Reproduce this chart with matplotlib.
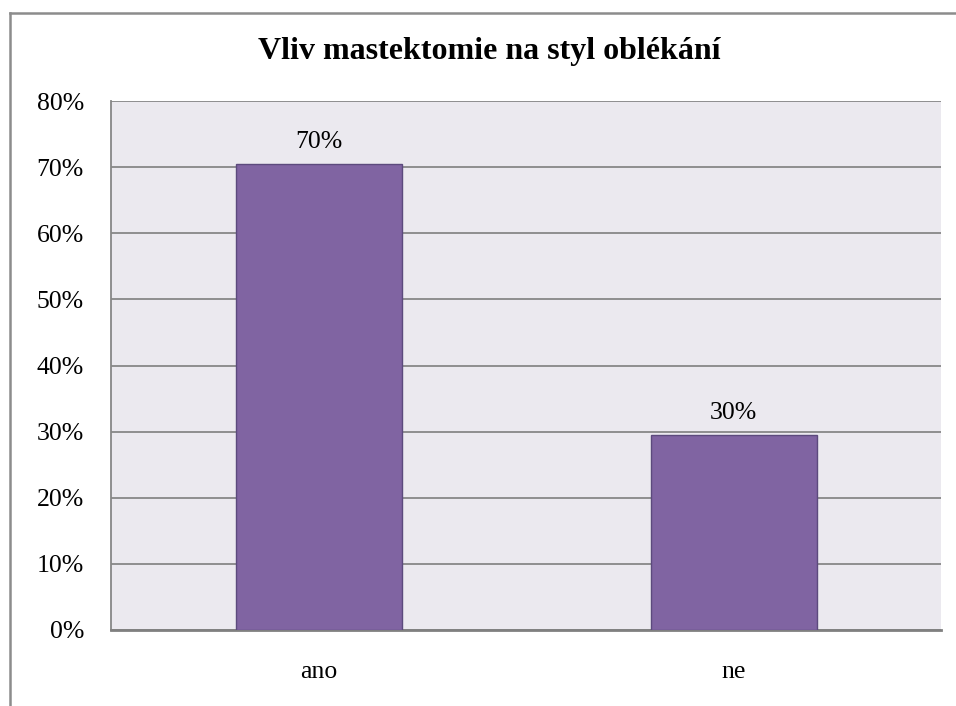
import matplotlib
matplotlib.use("Agg")
import matplotlib.pyplot as plt
from matplotlib.lines import Line2D
from matplotlib.ticker import PercentFormatter

plt.rcParams['font.family'] = ['Liberation Serif', 'DejaVu Serif']

categories = ['ano', 'ne']
shares = [0.705, 0.295]
bar_labels = ['70%', '30%']
title = 'Vliv mastektomie na styl oblékání'

W, H = 956, 706
fig = plt.figure(figsize=(W / 100, H / 100), dpi=100)
fig.patch.set_facecolor('white')

# plot area in pixel coordinates
left, right, top, bottom = 111, 941, 101, 630
ax = fig.add_axes([left / W, 1 - bottom / H, (right - left) / W, (bottom - top) / H])
ax.set_facecolor('#EBE9EF')

x = range(len(categories))
ax.bar(x, shares, width=0.4, color='#8064A2', edgecolor='#5C4A7D', linewidth=1.0, zorder=3)
for xi, v, lab in zip(x, shares, bar_labels):
    ax.annotate(lab, (xi, v), xytext=(0, 8), textcoords='offset points',
                ha='center', va='bottom', fontsize=18.5, color='black')

ax.set_xlim(-0.5, 1.5)
ax.set_ylim(0, 0.8)
ax.set_yticks([i / 10 for i in range(9)])
ax.yaxis.set_major_formatter(PercentFormatter(1.0, decimals=0))
ax.set_xticks(list(x))
ax.set_xticklabels(categories)
ax.tick_params(axis='both', length=0, labelsize=18.5, colors='black')
ax.tick_params(axis='y', pad=19.5)
ax.tick_params(axis='x', pad=22)
ax.yaxis.grid(True, color='#878787', linewidth=1.3, zorder=0)
ax.set_axisbelow(True)

for s in ['top', 'right']:
    ax.spines[s].set_visible(False)
ax.spines['left'].set_color('#878787')
ax.spines['left'].set_linewidth(1.3)
ax.spines['bottom'].set_color('#808080')
ax.spines['bottom'].set_linewidth(2.0)

fig.text(489 / W, 1 - 51 / H, title, ha='center', va='center',
         fontsize=23, fontweight='bold')

# chart frame (top and left edges)
fx, fy = 9.5 / W, 1 - 12.5 / H
fig.add_artist(Line2D([fx, 1], [fy, fy], transform=fig.transFigure, color='#8C8C8C', linewidth=1.8))
fig.add_artist(Line2D([fx, fx], [0, fy], transform=fig.transFigure, color='#8C8C8C', linewidth=1.8))

fig.savefig('out.png', dpi=100)
